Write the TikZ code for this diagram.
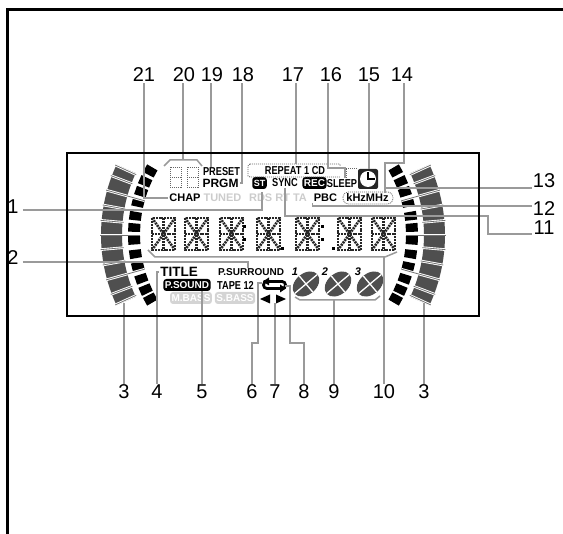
\documentclass[tikz,border=0pt]{standalone}
\usepackage{fontspec}
\setmainfont{Liberation Sans}
\newfontfamily\narrowfont[FakeStretch=0.8]{Liberation Sans}
\usepackage{tikz}
\definecolor{leadgray}{HTML}{9A9A9A}
\definecolor{bandgray}{HTML}{4F4F4F}

\begin{document}
\begin{tikzpicture}[x=1pt,y=-1pt,inner sep=1pt]
    \tikzstyle{num}=[font=\fontsize{20}{22}\selectfont]
    \tikzstyle{leader}=[draw=leadgray,line width=1.5pt]
    \tikzstyle{lcdtext}=[font=\fontsize{11}{12}\selectfont\bfseries]
    \tikzstyle{slim}=[font=\fontsize{11.5}{12}\selectfont\narrowfont\bfseries]
    \tikzstyle{faint}=[lcdtext,text=black!20]
    \tikzstyle{inverse}=[rectangle,fill=black,rounded corners=3pt,text=white,font=\fontsize{10}{11}\selectfont\bfseries,inner xsep=1.5pt,minimum height=12pt]
    \tikzstyle{faintbox}=[inverse,fill=black!17,text=white]
    \tikzstyle{lcdseg}=[line width=2.6pt,black!85,dash pattern=on 2pt off 0.9pt]
    \tikzstyle{dotbox}=[black!60,line width=0.8pt,dash pattern=on 1pt off 1pt]
    \useasboundingbox (0,0) rectangle (563,534);

    % level bands
    \foreach \cx/\dir in {268/180,278/0} {
        \draw[bandgray,line width=21pt] plot[domain=-25:25,samples=25] ({\cx+156.5*cos(\x+\dir)},{235+156.5*sin(\x+\dir)});
        \foreach \a in {-63,-52,-41.5,-31,-18,-7,5,18,30,42,53,63} {
            \pgfmathsetmacro{\c}{\dir==0 ? \a*0.4525 : 180-\a*0.4525}
            \fill ({\cx+128*cos(\c-1.8)},{235+128*sin(\c-1.8)}) -- ({\cx+140*cos(\c-1.8)},{235+140*sin(\c-1.8)}) -- ({\cx+140*cos(\c+1.8)},{235+140*sin(\c+1.8)}) -- ({\cx+128*cos(\c+1.8)},{235+128*sin(\c+1.8)}) -- cycle;
        }
        \foreach \a/\r in {-24.6/145,-20.7/145,-15.5/128,-10.3/145,-5/145,0/128,5/145,10.3/145,15.5/128,20.7/145,24.6/145} {
            \draw[white,line width=2.6pt] ({\cx+\r*cos(\a+\dir)},{235+\r*sin(\a+\dir)}) -- ({\cx+168*cos(\a+\dir)},{235+168*sin(\a+\dir)});
            \draw[bandgray!80,line width=0.8pt] ({\cx+\r*cos(\a+\dir)},{235+\r*sin(\a+\dir)}) -- ({\cx+168*cos(\a+\dir)},{235+168*sin(\a+\dir)});
        }
    };

    % display characters
    \foreach \cx in {152,185,220,257,296,338,372} {
        \draw[lcdseg] (\cx,218) rectangle (\cx+23,250);
        \draw[lcdseg] (\cx+11.5,218) -- (\cx+11.5,250);
        \draw[lcdseg] (\cx,234) -- (\cx+23,234);
        \draw[lcdseg] (\cx,218) -- (\cx+23,250);
        \draw[lcdseg] (\cx+23,218) -- (\cx,250);
    };
    \foreach \cx in {244,322} {
        \fill (\cx-1.5,225.5) rectangle (\cx+1.5,228.5);
        \fill (\cx-1.5,238.5) rectangle (\cx+1.5,241.5);
    };
    \fill (280.5,247.5) rectangle (283.5,250.5);
    \fill (331.5,247.5) rectangle (334.5,250.5);

    % small segment counter
    \foreach \cx in {170,187} {
        \draw[dotbox] (\cx,167) rectangle (\cx+11,187);
        \draw[dotbox] (\cx,177) -- (\cx+11,177);
    };

    % indicators
    \node[slim] (preset) at (221.5,172) {PRESET};
    \node[lcdtext,font=\fontsize{12}{13}\selectfont\bfseries] (prgm) at (220.5,183) {PRGM};
    \node[lcdtext] (chap) at (185,198) {CHAP};
    \node[faint] (tuned) at (222.5,198) {TUNED};
    \node[faint] (rds) at (278,198) {RDS RT TA};
    \node[inverse,font=\fontsize{9}{10}\selectfont\bfseries] (st) at (259.5,183) {ST};
    \node[slim] (sync) at (285,183) {SYNC};
    \node[inverse] (rec) at (314.5,183) {REC};
    \node[slim] (sleep) at (342,184) {SLEEP};
    \node[slim] (repeat) at (295,171) {REPEAT 1 CD};
    \node[lcdtext] (pbc) at (325.5,198) {PBC};
    \node[lcdtext] (khz) at (367.5,198) {kHzMHz};
    \node[lcdtext,font=\fontsize{13.5}{14}\selectfont\bfseries] (title) at (179,272) {TITLE};
    \node[lcdtext,font=\fontsize{10}{11}\selectfont\bfseries] (psurround) at (251,272) {P.SURROUND};
    \node[inverse] (psound) at (187,285) {P.SOUND};
    \node[slim] (tape) at (235.5,285) {TAPE 12};
    \node[faintbox] (mbass) at (191,298) {M.BASS};
    \node[faintbox] (sbass) at (235,298) {S.BASS};

    \draw[dotbox] (250,164) -- (339,164) -- (341,166);
    \draw[dotbox] (250,164) -- (248,166) -- (248,176) -- (250,177) -- (340,177);
    \draw[dotbox] (346,178) -- (346,168) -- (357,168);
    \draw[dotbox,rounded corners=5pt] (343,192) rectangle (393,204);

    \fill[black!85,rounded corners=2pt] (358,169) rectangle (378,189);
    \fill[white] (368,179) circle (8);
    \draw[line width=2.2pt] (368,172) -- (368,179) -- (375,179);

    \draw[line width=2.8pt,rounded corners=3.4pt] (267,281.5) -- (285.5,281.5) -- (285.5,288.5) -- (263.5,288.5) -- (263.5,281.5) -- cycle;
    \fill (269,277.5) -- (269,285.5) -- (263,281.5) -- cycle;
    \fill (280,284.5) -- (280,292.5) -- (286,288.5) -- cycle;
    \fill (260,299) -- (270,294.5) -- (270,303.5) -- cycle;
    \fill (286,299) -- (276,294.5) -- (276,303.5) -- cycle;

    \foreach \dx/\lx/\n in {306/295/1,338/325/2,370/358/3} {
        \begin{scope}[rotate around={40:(\dx,284)}]
            \fill[bandgray] (\dx,284) ellipse [x radius=15,y radius=10.5];
            \draw[white,line width=1.3pt] (\dx-15,284) -- (\dx+15,284);
            \draw[white,line width=1.3pt] (\dx,273.5) -- (\dx,294.5);
        \end{scope}
        \node[lcdtext,font=\fontsize{11}{12}\selectfont\bfseries\itshape] (disc\n) at (\lx,272) {\n};
    };

    % numbers
    \foreach \name/\x/\y in {21/144/75,20/184/75,19/212/75,18/243/75,17/293/75,16/331/75,15/369/75,14/402/75,13/544/181,12/544/209,11/544/228} {
        \node[num] (n\name) at (\x,\y) {\name};
    };
    \node[num] (n1) at (13,207) {1};
    \node[num] (n2) at (13,258) {2};
    \node[num] (n3a) at (124,392) {3};
    \node[num] (n4) at (157,392) {4};
    \node[num] (n5) at (202,392) {5};
    \node[num] (n6) at (252,392) {6};
    \node[num] (n7) at (275,392) {7};
    \node[num] (n8) at (304,392) {8};
    \node[num] (n9) at (334,392) {9};
    \node[num] (n10) at (384,392) {10};
    \node[num] (n3b) at (424,392) {3};

    % leaders
    \coordinate (band3a) at (124,303);
    \coordinate (band3b) at (424,303);
    \coordinate (c1) at (262,192);
    \coordinate (c2) at (248,268);
    \coordinate (c6a) at (258,343);
    \coordinate (c6b) at (262,283);
    \coordinate (c7) at (275,303);
    \coordinate (c8a) at (290,343);
    \coordinate (c8b) at (285,286);
    \coordinate (c11) at (488,216);
    \coordinate (c13) at (385,188);
    \coordinate (c14) at (385,163);
    \coordinate (c16a) at (345,168);
    \coordinate (c16b) at (345,178);
    \coordinate (c20) at (183,160);
    \coordinate (c17) at (296,164);
    \coordinate (c9) at (334,300);
    \coordinate (c10) at (384,257);
    \draw[leader] (n21.south) |- (chap.west);
    \draw[leader] ([xshift=-1pt]n20.south) -- (c20);
    \draw[leader] (164,166) -- (170,160) -- (197,160) -- (202,166);
    \draw[leader] ([xshift=-1pt]n19.south) -- ([xshift=-1pt]n19.south |- preset.north);
    \draw[leader] ([xshift=-1pt]n18.south) |- (prgm.east);
    \draw[leader] ([xshift=3pt]n17.south) -- (c17);
    \draw[leader] ([xshift=-3pt]n16.south) |- (c16a) -- (c16b);
    \draw[leader] (n15.south) -- (n15.south |- 0,169);
    \draw[leader] ([xshift=2pt]n14.south) |- (c14) -- (c14 |- khz.north);
    \draw[leader] (c13) -- ([yshift=-7pt]n13.west);
    \draw[leader] (pbc.south west) |- ([yshift=3pt]n12.west);
    \draw[leader] (sync.south) |- (c11) |- ([yshift=-6pt]n11.west);
    \draw[leader] ([xshift=3pt,yshift=-3pt]n1.east) -| (c1);
    \draw[leader] ([xshift=3pt,yshift=-4pt]n2.east) -| (c2);
    \draw[leader] (n3a.north) -- (band3a);
    \draw[leader] (n4.north) |- (title.west);
    \draw[leader] (n5.north) -- (n5.north |- psound.south);
    \draw[leader] (n6.north) |- (c6a) |- (c6b);
    \draw[leader] (n7.north) -- (c7);
    \draw[leader] (n8.north) |- (c8a) |- (c8b);
    \draw[leader] (n9.north) -- (c9);
    \draw[leader] (295,297) -- (300,300) -- (375,300) -- (380,296);
    \draw[leader] (n10.north) -- (c10);
    \draw[leader] (148,250) -- (155,257) -- (385,257) -- (397,252);
    \draw[leader] (n3b.north) -- (band3b);

    % frames
    \draw[line width=2pt] (67,153) rectangle (479,316);
    \draw[line width=2.6pt] (563,9.5) -- (7.3,9.5) -- (7.3,534);
\end{tikzpicture}
\end{document}
